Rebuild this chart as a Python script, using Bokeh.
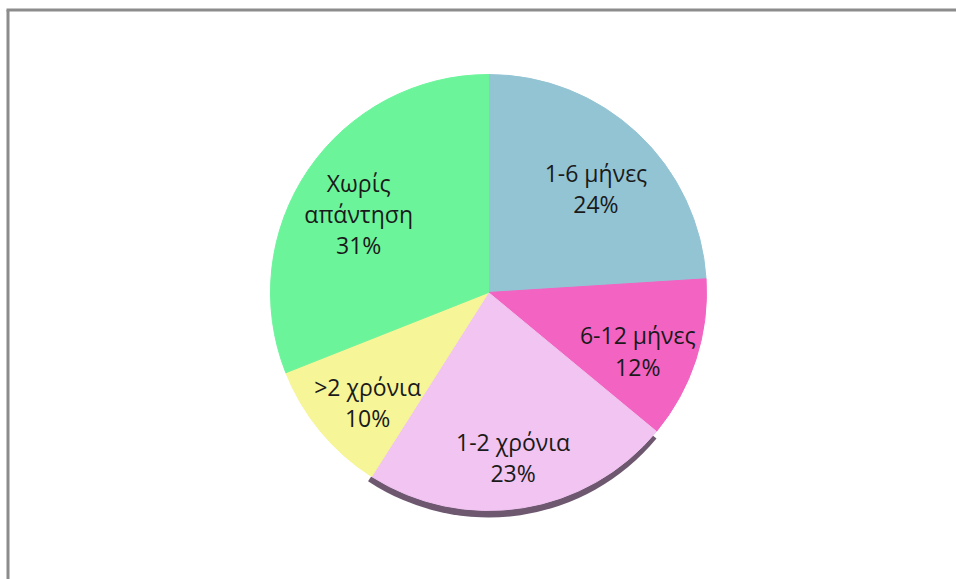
import math
from bokeh.plotting import figure
from bokeh.models import Range1d, ColumnDataSource
from bokeh.core.properties import value
from bokeh.embed import file_html
from bokeh.resources import INLINE

# ---- data ----
categories = ["1-6 μήνες", "6-12 μήνες", "1-2 χρόνια", ">2 χρόνια", "Χωρίς απάντηση"]
percents = [24, 12, 23, 10, 31]
colors = ["#93c4d4", "#f263c2", "#f1c4f1", "#f6f597", "#6cf49b"]

# ---- layout ----
W, H = 956, 579
CX, CY, R = 488, 287, 218
LABEL_FRAC = 0.72
LABEL_DY = -10

total = float(sum(percents))
starts, ends, lx, ly, labels = [], [], [], [], []
cum = 0.0
for cat, pct in zip(categories, percents):
    a_before = math.pi / 2 - 2 * math.pi * cum / total
    cum += pct
    a_after = math.pi / 2 - 2 * math.pi * cum / total
    starts.append(a_after)
    ends.append(a_before)
    mid = (a_before + a_after) / 2
    lx.append(CX + LABEL_FRAC * R * math.cos(mid))
    ly.append(CY + LABEL_DY + LABEL_FRAC * R * math.sin(mid))
    name = cat.replace(" ", "\n") if len(cat) > 12 else cat
    labels.append(f"{name}\n{pct}%")

src = ColumnDataSource(dict(start=starts, end=ends, color=colors, lx=lx, ly=ly, label=labels))

p = figure(width=W, height=H, output_backend="svg", toolbar_location=None,
           x_range=Range1d(0, W), y_range=Range1d(0, H),
           x_axis_location=None, y_axis_location=None, min_border=0)
p.grid.visible = False
p.outline_line_color = None
p.background_fill_color = "white"
p.border_fill_color = "white"

# shadow below the 1-2 χρόνια slice
i_shadow = 2
p.wedge(x=CX, y=CY - 7, radius=R, start_angle=starts[i_shadow] - 0.02,
        end_angle=ends[i_shadow], color="#6d586f", line_color=None)

p.wedge(x=CX, y=CY, radius=R, start_angle="start", end_angle="end",
        fill_color="color", line_color="color", line_width=1, source=src)

p.text(x="lx", y="ly", text="label", source=src, text_align="center",
       text_baseline="middle", text_font=value("Open Sans"), text_font_size="23px",
       text_color="#1a1a1a", text_line_height=0.97)

# chart frame (left and top edges visible)
p.segment(x0=[7.5, 6], y0=[-20, H - 9.5], x1=[7.5, W + 20], y1=[H - 9.5, H - 9.5],
          line_color="#8c8c8c", line_width=3)

open("out.html", "w").write(file_html(p, INLINE))
